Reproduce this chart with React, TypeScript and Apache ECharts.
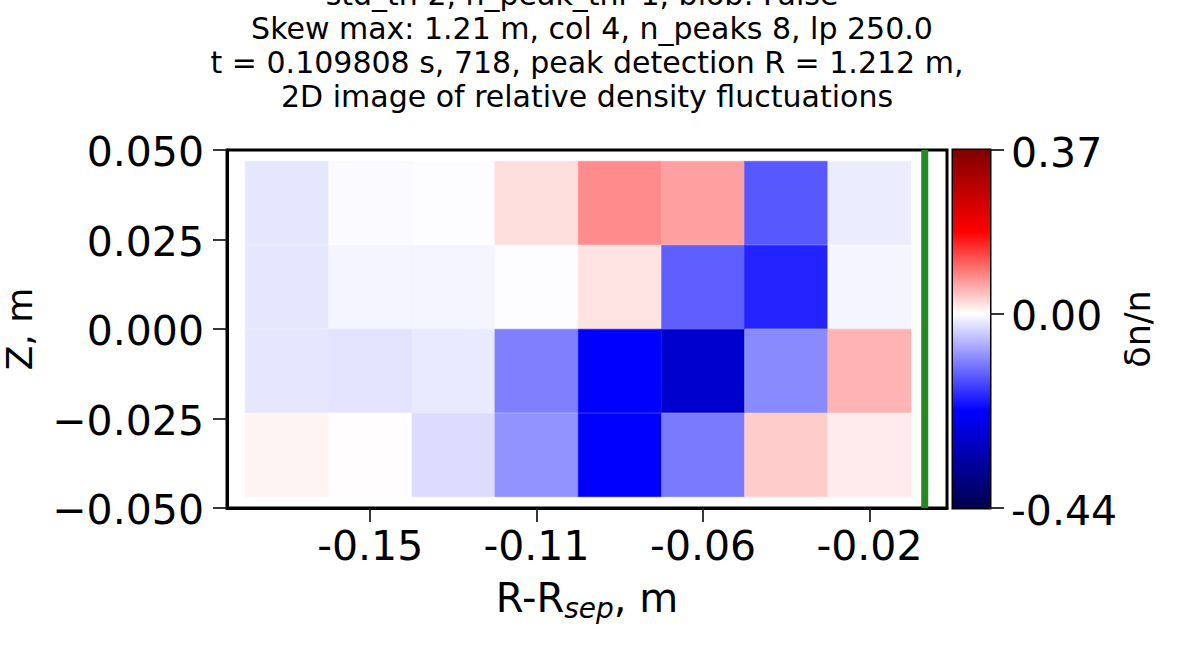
import { useEffect, useRef } from 'react';
import * as echarts from 'echarts';

const titleLines = [
  'std_th 2, n_peak_thr 1, blob: False',
  'Skew max: 1.21 m, col 4, n_peaks 8, lp 250.0',
  't = 0.109808 s, 718, peak detection R = 1.212 m,',
  '2D image of relative density fluctuations',
];
const titleLefts = [577, 587, 582, 582];

// column centres in R-Rsep, m
const rValues = [-0.1717, -0.15, -0.1283, -0.1067, -0.085, -0.0633, -0.0417, -0.02];
// row centres in Z, m
const zValues = [0.0352, 0.0117, -0.0117, -0.0352];
const rTicks = [-0.15, -0.1067, -0.0633, -0.02];
const zTicks = [-0.05, -0.025, 0, 0.025, 0.05];
const barTicks = [-0.44, 0, 0.37];
const cellWidth = 0.02167;
const cellHeight = 0.02332;
const separatrixR = -0.0056;

// dn/n, one row per Z from the top
const row1 = [-0.0216, -0.0043, -0.0017, 0.024, 0.0834, 0.0689, -0.144, -0.0164];
const row2 = [-0.0216, -0.0086, -0.0086, -0.0017, 0.021, -0.138, -0.19, -0.0086];
const row3 = [-0.0216, -0.0242, -0.019, -0.1096, -0.22, -0.282, -0.101, 0.055];
const row4 = [0.008, 0.0015, -0.03, -0.093, -0.22, -0.115, 0.037, 0.0145];
const rows = [row1, row2, row3, row4];

const vMin = -0.44;
const vMax = 0.37;

// seismic colormap, centred on zero
const seismic = (v: number) => {
  const t = v < 0 ? 0.5 + (0.5 * v) / -vMin : 0.5 + (0.5 * v) / vMax;
  let r, g, b;
  if (t < 0.25) {
    r = 0; g = 0; b = 77 + (255 - 77) * (t / 0.25);
  } else if (t < 0.5) {
    const c = 255 * ((t - 0.25) / 0.25);
    r = c; g = c; b = 255;
  } else if (t < 0.75) {
    const c = 255 * (1 - (t - 0.5) / 0.25);
    r = 255; g = c; b = c;
  } else {
    r = 255 - 127 * ((t - 0.75) / 0.25); g = 0; b = 0;
  }
  return `rgb(${Math.round(r)},${Math.round(g)},${Math.round(b)})`;
};

const font = 'DejaVu Sans';

export default function App() {
  const chartRef = useRef<HTMLDivElement>(null);

  useEffect(() => {
    if (!chartRef.current) return;
    const chart = echarts.init(chartRef.current, null, { renderer: 'svg' });

    const cells: number[][] = [];
    rows.forEach((row, j) => {
      row.forEach((v, i) => cells.push([rValues[i], zValues[j], v]));
    });

    const barStops = [vMax, vMax / 2, 0, vMin / 2, vMin].map(v => ({
      offset: (vMax - v) / (vMax - vMin),
      color: seismic(v),
    }));

    const spine = { show: true, onZero: false, lineStyle: { color: '#000', width: 3 } };
    const tick = { show: true, length: 14, lineStyle: { color: '#222', width: 1.8 } };

    chart.setOption({
      animation: false,
      backgroundColor: '#fff',
      title: titleLines.map((text, i) => ({
        text,
        left: titleLefts[i],
        top: -28 + i * 34,
        textAlign: 'center',
        textStyle: { fontFamily: font, fontSize: 30, fontWeight: 'normal', color: '#000', lineHeight: 34 },
      })),
      grid: [
        { left: 227, top: 150, width: 720, height: 358, show: true, borderColor: '#000', borderWidth: 3, backgroundColor: 'transparent', outerBoundsMode: 'none', containLabel: false },
        { left: 953, top: 150, width: 37, height: 358, show: true, borderColor: '#000', borderWidth: 3, backgroundColor: 'transparent', outerBoundsMode: 'none', containLabel: false },
      ],
      xAxis: [
        {
          type: 'value',
          gridIndex: 0,
          min: -0.1873,
          max: 0.0002,
          splitLine: { show: false },
          axisLine: spine,
          axisTick: { ...tick, customValues: rTicks },
          axisLabel: {
            customValues: rTicks,
            formatter: (v: number) => v.toFixed(2),
            fontFamily: font,
            fontSize: 41,
            color: '#000',
            margin: 17,
          },
          name: '{a|R-R}{b|sep}{a|, m}',
          nameLocation: 'middle',
          nameGap: 66,
          nameTextStyle: {
            rich: {
              a: { fontFamily: font, fontSize: 40, color: '#000' },
              b: { fontFamily: font, fontSize: 28, fontStyle: 'italic', color: '#000', verticalAlign: 'bottom', padding: [20, 0, 0, 0] },
            },
          },
        },
        {
          type: 'value',
          gridIndex: 1,
          min: 0,
          max: 1,
          axisLine: { show: false },
          axisTick: { show: false },
          axisLabel: { show: false },
          splitLine: { show: false },
        },
      ],
      yAxis: [
        {
          type: 'value',
          gridIndex: 0,
          min: -0.05,
          max: 0.05,
          interval: 0.025,
          splitLine: { show: false },
          axisLine: spine,
          axisTick: { ...tick, customValues: zTicks },
          axisLabel: {
            customValues: zTicks,
            formatter: (v: number) => `{a|${v.toFixed(3).replace('-', '\u2212')}}`,
            margin: 23,
            rich: { a: { fontFamily: font, fontSize: 41, color: '#000', padding: [4, 0, 0, 0] } },
          },
          name: 'Z, m',
          nameLocation: 'middle',
          nameGap: 190,
          nameTextStyle: { fontFamily: font, fontSize: 36, color: '#000' },
        },
        {
          type: 'value',
          gridIndex: 1,
          position: 'right',
          min: vMin,
          max: vMax,
          splitLine: { show: false },
          axisLine: { show: false, onZero: false },
          axisTick: { ...tick, customValues: barTicks },
          axisLabel: {
            customValues: barTicks,
            formatter: (v: number) => `{a|${v.toFixed(2)}}`,
            margin: 21,
            rich: { a: { fontFamily: font, fontSize: 41, color: '#000', padding: [5, 0, 0, 0] } },
          },
          name: '\u03b4n/n',
          nameLocation: 'middle',
          nameGap: 129,
          nameRotate: 90,
          nameTextStyle: { fontFamily: font, fontSize: 35, color: '#000' },
        },
      ],
      series: [
        {
          type: 'custom',
          xAxisIndex: 0,
          yAxisIndex: 0,
          data: cells,
          renderItem: (_: any, api: any) => {
            const x = api.value(0);
            const y = api.value(1);
            const p0 = api.coord([x - cellWidth / 2, y + cellHeight / 2]);
            const p1 = api.coord([x + cellWidth / 2, y - cellHeight / 2]);
            const fill = seismic(api.value(2));
            return {
              type: 'rect',
              shape: { x: p0[0], y: p0[1], width: p1[0] - p0[0], height: p1[1] - p0[1] },
              style: { fill, stroke: fill, lineWidth: 0.5 },
            };
          },
        },
        {
          type: 'line',
          xAxisIndex: 0,
          yAxisIndex: 0,
          data: [[separatrixR, -0.05], [separatrixR, 0.05]],
          symbol: 'none',
          lineStyle: { color: '#228b22', width: 7 },
        },
        {
          type: 'custom',
          xAxisIndex: 1,
          yAxisIndex: 1,
          z: 1,
          data: [[0, vMin, 1, vMax]],
          renderItem: (_: any, api: any) => {
            const p0 = api.coord([api.value(0), api.value(3)]);
            const p1 = api.coord([api.value(2), api.value(1)]);
            return {
              type: 'rect',
              shape: { x: p0[0], y: p0[1], width: p1[0] - p0[0], height: p1[1] - p0[1] },
              style: { fill: new echarts.graphic.LinearGradient(0, 0, 0, 1, barStops) },
            };
          },
        },
      ],
    });

    return () => {
      chart.dispose();
    };
  }, []);

  return (
    <div
      ref={chartRef}
      style={{ position: 'absolute', left: 0, top: 0, width: 1196, height: 645, overflow: 'hidden' }}
    />
  );
}
